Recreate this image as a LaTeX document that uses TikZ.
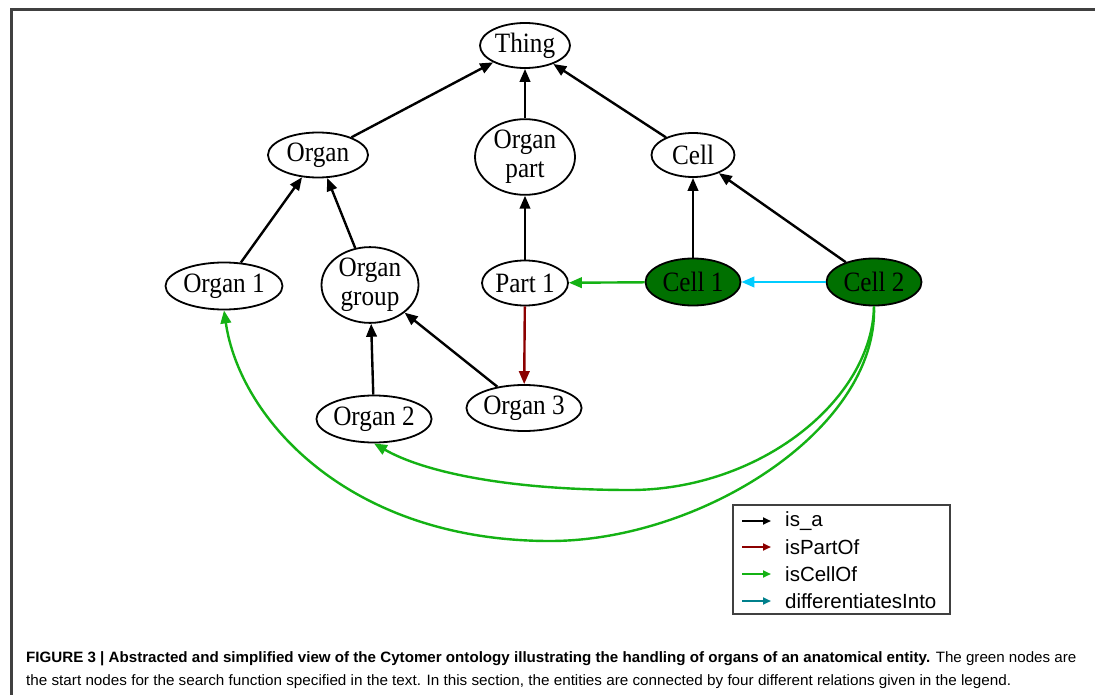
\documentclass[tikz,border=0pt]{standalone}
\usepackage{fontspec}
\usepackage{graphicx}
\setmainfont{Liberation Serif}
\newfontfamily\entityfont[FakeStretch=0.9]{Liberation Serif}
\newfontfamily\sansfont{Liberation Sans}
\usetikzlibrary{shapes.geometric,arrows.meta}

\definecolor{framegray}{RGB}{64,64,64}
\definecolor{startgreen}{RGB}{0,112,0}
\definecolor{partred}{RGB}{140,0,0}
\definecolor{cellgreen}{RGB}{20,178,20}
\definecolor{diffcyan}{RGB}{0,204,255}
\definecolor{diffteal}{RGB}{0,128,140}

\tikzset{
  entity/.style={ellipse, draw=black, line width=1.8pt, inner sep=0pt, align=center,
    font=\entityfont\fontsize{28}{29}\selectfont},
  start/.style={entity, fill=startgreen},
  rel/.style={line width=2.4pt, -{Triangle[length=13pt,width=10.5pt]}},
  isa/.style={rel, draw=black},
  partof/.style={rel, draw=partred, -{Triangle[length=13pt,width=10.5pt,fill=partred]}},
  cellof/.style={rel, draw=cellgreen},
  diffinto/.style={rel, draw=diffcyan},
  keyarrow/.style={line width=2pt, -{Triangle[length=8pt,width=7pt]}},
  keytext/.style={anchor=west, inner sep=0pt, font=\sansfont\fontsize{20.5}{24}\selectfont},
  captext/.style={anchor=base west, inner sep=0pt, font=\sansfont\fontsize{15}{18}\selectfont}
}

\begin{document}
\begin{tikzpicture}[x=1pt,y=-1pt]
\useasboundingbox (0,0) rectangle (1095,695);
\fill[white] (0,0) rectangle (1095,695);

% page frame
\draw[framegray, line width=2.2pt] (11.5,695) -- (11.5,9.5) -- (1095,9.5);

% ontology entities
\node[entity, minimum width=90pt, minimum height=45pt] (thing) at (525,45.5) {Thing};
\node[entity, minimum width=100pt, minimum height=45pt] (organ) at (318,155) {Organ};
\node[entity, minimum width=100pt, minimum height=66pt] (organpart) at (525,157) {Organ\\part};
\node[entity, minimum width=83pt, minimum height=44pt] (cell) at (693,155) {Cell};
\node[entity, minimum width=117pt, minimum height=47pt] (organ1) at (224,286) {Organ 1};
\node[entity, minimum width=97pt, minimum height=75pt] (organgroup) at (370,285) {Organ\\group};
\node[entity, minimum width=86pt, minimum height=45pt] (part1) at (525,283) {Part 1};
\node[start, minimum width=95pt, minimum height=47pt] (cell1) at (693,282) {Cell 1};
\node[start, minimum width=95pt, minimum height=47pt] (cell2) at (874,282) {Cell 2};
\node[entity, minimum width=112pt, minimum height=47pt] (organ2) at (374,419) {Organ 2};
\node[entity, minimum width=112pt, minimum height=46pt] (organ3) at (524,408) {Organ 3};

% is_a
\draw[isa] (organ) -- (thing);
\draw[isa] (organpart) -- (thing);
\draw[isa] (cell) -- (thing);
\draw[isa] (organ1) -- (organ);
\draw[isa] (organgroup) -- (organ);
\draw[isa] (part1) -- (organpart);
\draw[isa] (cell1) -- (cell);
\draw[isa] (cell2) -- (cell);
\draw[isa] (organ2) -- (organgroup);
\draw[isa] (organ3) -- (organgroup);

% isPartOf
\draw[partof] (part1) -- (organ3);

% isCellOf
\draw[cellof] (cell1) -- (part1);
\draw[cellof] (cell2.south) .. controls (872,400) and (760,490) .. (630,490)
  .. controls (500,490) and (420,470) .. (organ2.south);
\draw[cellof] (cell2.south) .. controls (878,430) and (700,541) .. (550,541)
  .. controls (350,541) and (240,420) .. (organ1.south);

% differentiatesInto
\draw[diffinto] (cell2) -- (cell1);

% legend
\node[draw=framegray, line width=2pt, minimum width=217pt, minimum height=109pt, inner sep=0pt]
  (legend) at (841.5,559.5) {};
\coordinate (k1a) at (742,521); \coordinate (k1b) at (771,521);
\coordinate (k2a) at (742,547); \coordinate (k2b) at (771,547);
\coordinate (k3a) at (742,574); \coordinate (k3b) at (771,574);
\coordinate (k4a) at (742,601); \coordinate (k4b) at (771,601);
\draw[keyarrow, black] (k1a) -- (k1b);
\draw[keyarrow, partred] (k2a) -- (k2b);
\draw[keyarrow, cellgreen] (k3a) -- (k3b);
\draw[keyarrow, diffteal] (k4a) -- (k4b);
\node[keytext] (l1) at (785,521) {is\_a};
\node[keytext] (l2) at (785,547) {isPartOf};
\node[keytext] (l3) at (785,574) {isCellOf};
\node[keytext] (l4) at (785,601) {differentiatesInto};

% caption
\node[captext] (cap1) at (26,662) {\resizebox{1050pt}{\height}{\textbf{FIGURE 3 | Abstracted and simplified view of the Cytomer ontology illustrating the handling of organs of an anatomical entity.} The green nodes are}};
\node[captext] (cap2) at (26,685) {\resizebox{985pt}{\height}{the start nodes for the search function specified in the text. In this section, the entities are connected by four different relations given in the legend.}};
\end{tikzpicture}
\end{document}
